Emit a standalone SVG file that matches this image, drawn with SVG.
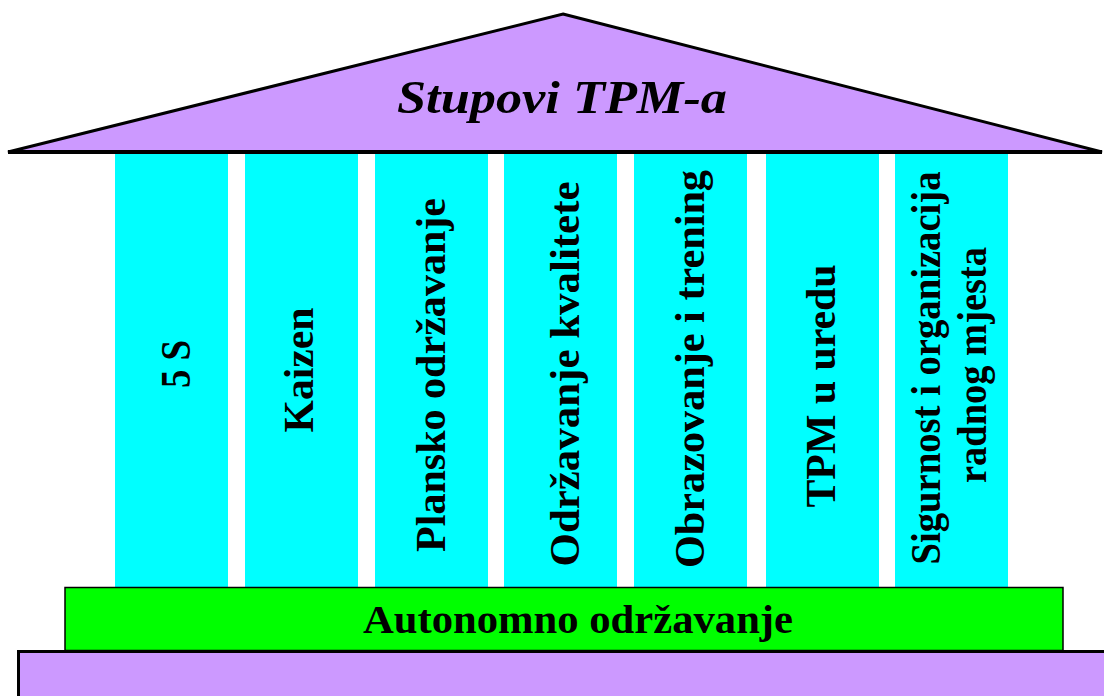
<svg xmlns="http://www.w3.org/2000/svg" width="1104" height="696" viewBox="0 0 1104 696">
<style>
.pillar{fill:#00FFFF;}
.pt{font-family:"Liberation Serif","Times New Roman",serif;font-weight:bold;font-size:42px;fill:#000;text-anchor:middle;}
.purple{fill:#CC99FF;stroke:#000;}
</style>
<rect x="0" y="0" width="1104" height="696" fill="#FFFFFF"/>
<g id="base">
<rect class="purple" x="18.5" y="651.5" width="1090" height="60" stroke-width="3"/>
</g>
<g id="pillars">
<g id="p1"><rect class="pillar" x="115" y="153" width="113" height="434"/>
<text class="pt" transform="translate(190,364) rotate(-90)" textLength="48" lengthAdjust="spacingAndGlyphs">5 S</text></g>
<g id="p2"><rect class="pillar" x="245" y="153" width="113" height="434"/>
<text class="pt" transform="translate(313,370) rotate(-90)" textLength="125" lengthAdjust="spacingAndGlyphs">Kaizen</text></g>
<g id="p3"><rect class="pillar" x="375" y="153" width="113" height="434"/>
<text class="pt" transform="translate(445,375) rotate(-90)" textLength="354" lengthAdjust="spacingAndGlyphs">Plansko održavanje</text></g>
<g id="p4"><rect class="pillar" x="504" y="153" width="113" height="434"/>
<text class="pt" transform="translate(579,374) rotate(-90)" textLength="385" lengthAdjust="spacingAndGlyphs">Održavanje kvalitete</text></g>
<g id="p5"><rect class="pillar" x="634" y="153" width="113" height="434"/>
<text class="pt" transform="translate(704,369) rotate(-90)" textLength="398" lengthAdjust="spacingAndGlyphs">Obrazovanje i trening</text></g>
<g id="p6"><rect class="pillar" x="766" y="153" width="113" height="434"/>
<text class="pt" transform="translate(835,386) rotate(-90)" textLength="243" lengthAdjust="spacingAndGlyphs">TPM u uredu</text></g>
<g id="p7"><rect class="pillar" x="895" y="153" width="113" height="434"/>
<text class="pt" transform="translate(940,368) rotate(-90)" textLength="393" lengthAdjust="spacingAndGlyphs">Sigurnost i organizacija</text>
<text class="pt" transform="translate(986,365) rotate(-90)" textLength="236" lengthAdjust="spacingAndGlyphs">radnog mjesta</text></g>
</g>
<g id="autonomno">
<rect x="65" y="587.5" width="998" height="63" fill="#00FF00" stroke="#000" stroke-width="1.5"/>
<text x="578" y="633" font-family="Liberation Serif, Times New Roman, serif" font-weight="bold" font-size="40" text-anchor="middle" textLength="430" lengthAdjust="spacingAndGlyphs">Autonomno održavanje</text>
</g>
<g id="roof">
<polygon class="purple" points="563,14 1102,152 8,152" stroke-width="3" stroke-linejoin="miter"/>
<line x1="8" y1="152" x2="1102" y2="152" stroke="#000" stroke-width="4"/>
<text x="562" y="113" font-family="Liberation Serif, Times New Roman, serif" font-weight="bold" font-style="italic" font-size="46" text-anchor="middle" textLength="330" lengthAdjust="spacingAndGlyphs">Stupovi TPM-a</text>
</g>
<g id="connectors"></g>
</svg>
